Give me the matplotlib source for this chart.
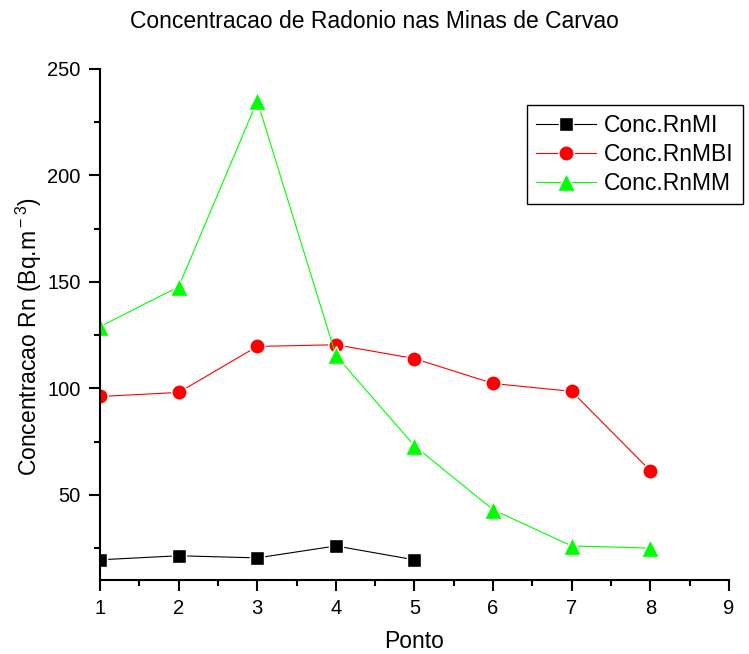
import matplotlib
matplotlib.use("Agg")
import matplotlib.pyplot as plt
from matplotlib.ticker import MultipleLocator

# pontos de amostragem e concentracoes medidas (Bq/m3)
ponto_mi = [1, 2, 3, 4, 5]
conc_rnmi = [19.5, 21.4, 20.4, 26.0, 19.5]

ponto_mbi = [1, 2, 3, 4, 5, 6, 7, 8]
conc_rnmbi = [96.2, 98.1, 119.7, 120.5, 114.0, 102.3, 98.6, 61.3]

ponto_mm = [1, 2, 3, 4, 5, 6, 7, 8]
conc_rnmm = [129.0, 147.7, 235.0, 115.5, 73.0, 43.0, 26.0, 25.0]

plt.rcParams['font.family'] = ['Liberation Sans', 'DejaVu Sans']
plt.rcParams['mathtext.fontset'] = 'custom'
plt.rcParams['mathtext.rm'] = 'Liberation Sans'

fig = plt.figure(figsize=(7.49, 6.54), dpi=100)
ax = fig.add_axes([0.1335, 0.1131, 0.8398, 0.7814])

ax.plot(ponto_mi, conc_rnmi, color='black', lw=0.8, marker='s', ms=10,
        mec='white', mew=1, mfc='black', label='Conc.RnMI')
ax.plot(ponto_mbi, conc_rnmbi, color='red', lw=0.8, marker='o', ms=11,
        mec='white', mew=1, mfc='red', label='Conc.RnMBI')
ax.plot(ponto_mm, conc_rnmm, color='#00ff00', lw=0.8, marker='^', ms=13,
        mec='white', mew=1, mfc='#00ff00', label='Conc.RnMM')

ax.set_xlim(1, 9)
ax.set_ylim(10, 250)
ax.xaxis.set_major_locator(MultipleLocator(1))
ax.xaxis.set_minor_locator(MultipleLocator(0.5))
ax.yaxis.set_major_locator(MultipleLocator(50))
ax.yaxis.set_minor_locator(MultipleLocator(25))
ax.set_yticks([50, 100, 150, 200, 250])

for side in ['top', 'right']:
    ax.spines[side].set_visible(False)
for side in ['left', 'bottom']:
    ax.spines[side].set_linewidth(1.5)
ax.tick_params(which='major', direction='out', length=8, width=1.5,
               labelsize=14.5, pad=6)
ax.tick_params(which='minor', direction='out', length=4, width=1.5)

ax.set_xlabel('Ponto', fontsize=16.5, labelpad=8)
ax.set_ylabel(r'Concentracao Rn (Bq.m$^{\rm -3}$)', fontsize=16.5)
ax.yaxis.set_label_coords(-0.089, 0.4755)
fig.suptitle('Concentracao de Radonio nas Minas de Carvao', fontsize=16.5, y=0.985)

leg = ax.legend(loc='upper left', bbox_to_anchor=(0.6789, 0.9295), fontsize=16.5,
                fancybox=False, framealpha=1, edgecolor='black',
                handlelength=2.6, handletextpad=0.35, borderpad=0.4,
                labelspacing=0.25, borderaxespad=0)
leg.get_frame().set_linewidth(1.0)

fig.savefig('out.png', dpi=100)
